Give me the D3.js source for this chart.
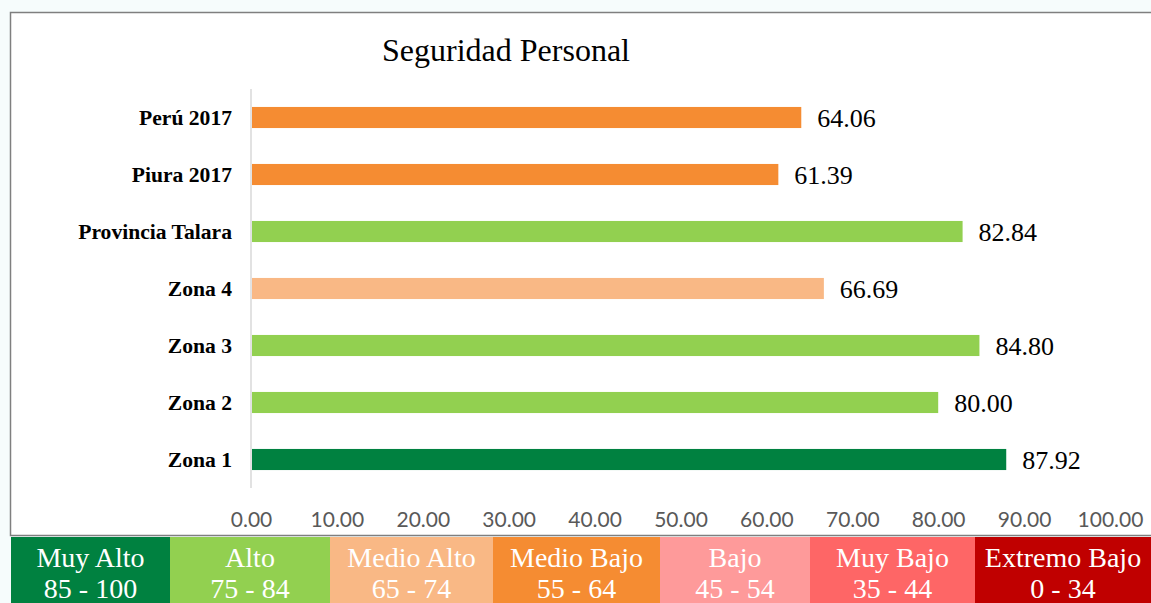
<!DOCTYPE html>
<html>
<head>
<meta charset="utf-8">
<script src="https://cdn.jsdelivr.net/npm/d3@7"></script>
<style>
  body { margin: 0; background: #f6fcfc; }
  svg { display: block; }
</style>
</head>
<body>
<div id="chart"></div>
<script>
var w = 1151;
var h = 603;

// bars, top to bottom
var categories = ["Perú 2017", "Piura 2017", "Provincia Talara", "Zona 4", "Zona 3", "Zona 2", "Zona 1"];
var values = [64.06, 61.39, 82.84, 66.69, 84.80, 80.00, 87.92];
var xTicks = [0, 10, 20, 30, 40, 50, 60, 70, 80, 90, 100];

// legend classes
var levelNames = ["Muy Alto", "Alto", "Medio Alto", "Medio Bajo", "Bajo", "Muy Bajo", "Extremo Bajo"];
var levelRanges = ["85 - 100", "75 - 84", "65 - 74", "55 - 64", "45 - 54", "35 - 44", "0 - 34"];
var levelColors = ["#008140", "#92d050", "#f9b885", "#f58c32", "#fe9a9a", "#fe6666", "#c00000"];
var levelMins = [85, 75, 65, 55, 45, 35, 0];

var dataset = categories.map(function (c, i) {
    return { name: c, value: values[i] };
});

var colorOf = d3.scaleThreshold()
    .domain(levelMins.slice(0, 6).reverse())
    .range(levelColors.slice().reverse());

var xScale = d3.scaleLinear().domain([0, 100]).range([251, 1110]);
var yScale = d3.scaleBand()
    .domain(categories)
    .range([89, 488])
    .paddingInner(0.63)
    .paddingOuter(0.315);

var svg = d3.select("#chart")
    .append("svg")
    .attr("width", w)
    .attr("height", h);

// chart area with frame
svg.append("rect")
    .attr("x", 10.5)
    .attr("y", 12.5)
    .attr("width", 1160)
    .attr("height", 523)
    .attr("fill", "#ffffff")
    .attr("stroke", "#7f7f7f")
    .attr("stroke-width", 1.5);

svg.append("text")
    .attr("x", 506)
    .attr("y", 61)
    .attr("text-anchor", "middle")
    .attr("font-family", "Liberation Serif, Times New Roman, serif")
    .attr("font-size", 32)
    .attr("fill", "#000")
    .text("Seguridad Personal");

svg.selectAll("rect.bar")
    .data(dataset)
    .enter()
    .append("rect")
    .attr("class", "bar")
    .attr("x", xScale(0) + 1)
    .attr("y", function (d) { return yScale(d.name); })
    .attr("width", function (d) { return xScale(d.value) - xScale(0) - 1; })
    .attr("height", yScale.bandwidth())
    .attr("fill", function (d) { return colorOf(d.value); });

svg.selectAll("text.val")
    .data(dataset)
    .enter()
    .append("text")
    .attr("class", "val")
    .attr("x", function (d) { return xScale(d.value) + 16; })
    .attr("y", function (d) { return yScale(d.name) + yScale.bandwidth() / 2 + 9.5; })
    .attr("font-family", "Liberation Serif, Times New Roman, serif")
    .attr("font-size", 26)
    .attr("fill", "#000")
    .text(function (d) { return d.value.toFixed(2); });

// y axis: line and category labels
var yAxis = d3.axisLeft(yScale).tickSize(0).tickPadding(19);
var gy = svg.append("g")
    .attr("transform", "translate(" + xScale(0) + ",0)")
    .call(yAxis);
gy.select(".domain").remove();
gy.selectAll("text")
    .attr("font-family", "Liberation Serif, Times New Roman, serif")
    .attr("font-weight", "bold")
    .attr("font-size", 21.6)
    .attr("fill", "#000")
    .attr("dy", "0.35em");

svg.append("line")
    .attr("x1", xScale(0))
    .attr("x2", xScale(0))
    .attr("y1", 89)
    .attr("y2", 488)
    .attr("stroke", "#d9d9d9")
    .attr("stroke-width", 1.5);

// x axis labels only
var xAxis = d3.axisBottom(xScale)
    .tickValues(xTicks)
    .tickSize(0)
    .tickPadding(0)
    .tickFormat(function (d) { return d.toFixed(2); });
var gx = svg.append("g")
    .attr("transform", "translate(0,527)")
    .call(xAxis);
gx.select(".domain").remove();
gx.selectAll("text")
    .attr("y", 0)
    .attr("dy", 0)
    .attr("font-family", "Lato, Open Sans, sans-serif")
    .attr("font-size", 21)
    .attr("fill", "#595959");

// legend strip
var legendEdges = [11, 170, 330, 493, 660, 810, 975, 1151];
var legend = svg.selectAll("g.legend")
    .data(levelNames)
    .enter()
    .append("g")
    .attr("class", "legend");

legend.append("rect")
    .attr("x", function (d, i) { return legendEdges[i]; })
    .attr("y", 537)
    .attr("width", function (d, i) { return legendEdges[i + 1] - legendEdges[i]; })
    .attr("height", 70)
    .attr("fill", function (d, i) { return levelColors[i]; });

legend.append("text")
    .attr("x", function (d, i) { return (legendEdges[i] + legendEdges[i + 1]) / 2; })
    .attr("y", 567)
    .attr("text-anchor", "middle")
    .attr("font-family", "Liberation Serif, Times New Roman, serif")
    .attr("font-size", 28)
    .attr("fill", "#ffffff")
    .text(function (d) { return d; });

legend.append("text")
    .attr("x", function (d, i) { return (legendEdges[i] + legendEdges[i + 1]) / 2; })
    .attr("y", 598)
    .attr("text-anchor", "middle")
    .attr("font-family", "Liberation Serif, Times New Roman, serif")
    .attr("font-size", 28)
    .attr("fill", "#ffffff")
    .text(function (d, i) { return levelRanges[i]; });
</script>
</body>
</html>
